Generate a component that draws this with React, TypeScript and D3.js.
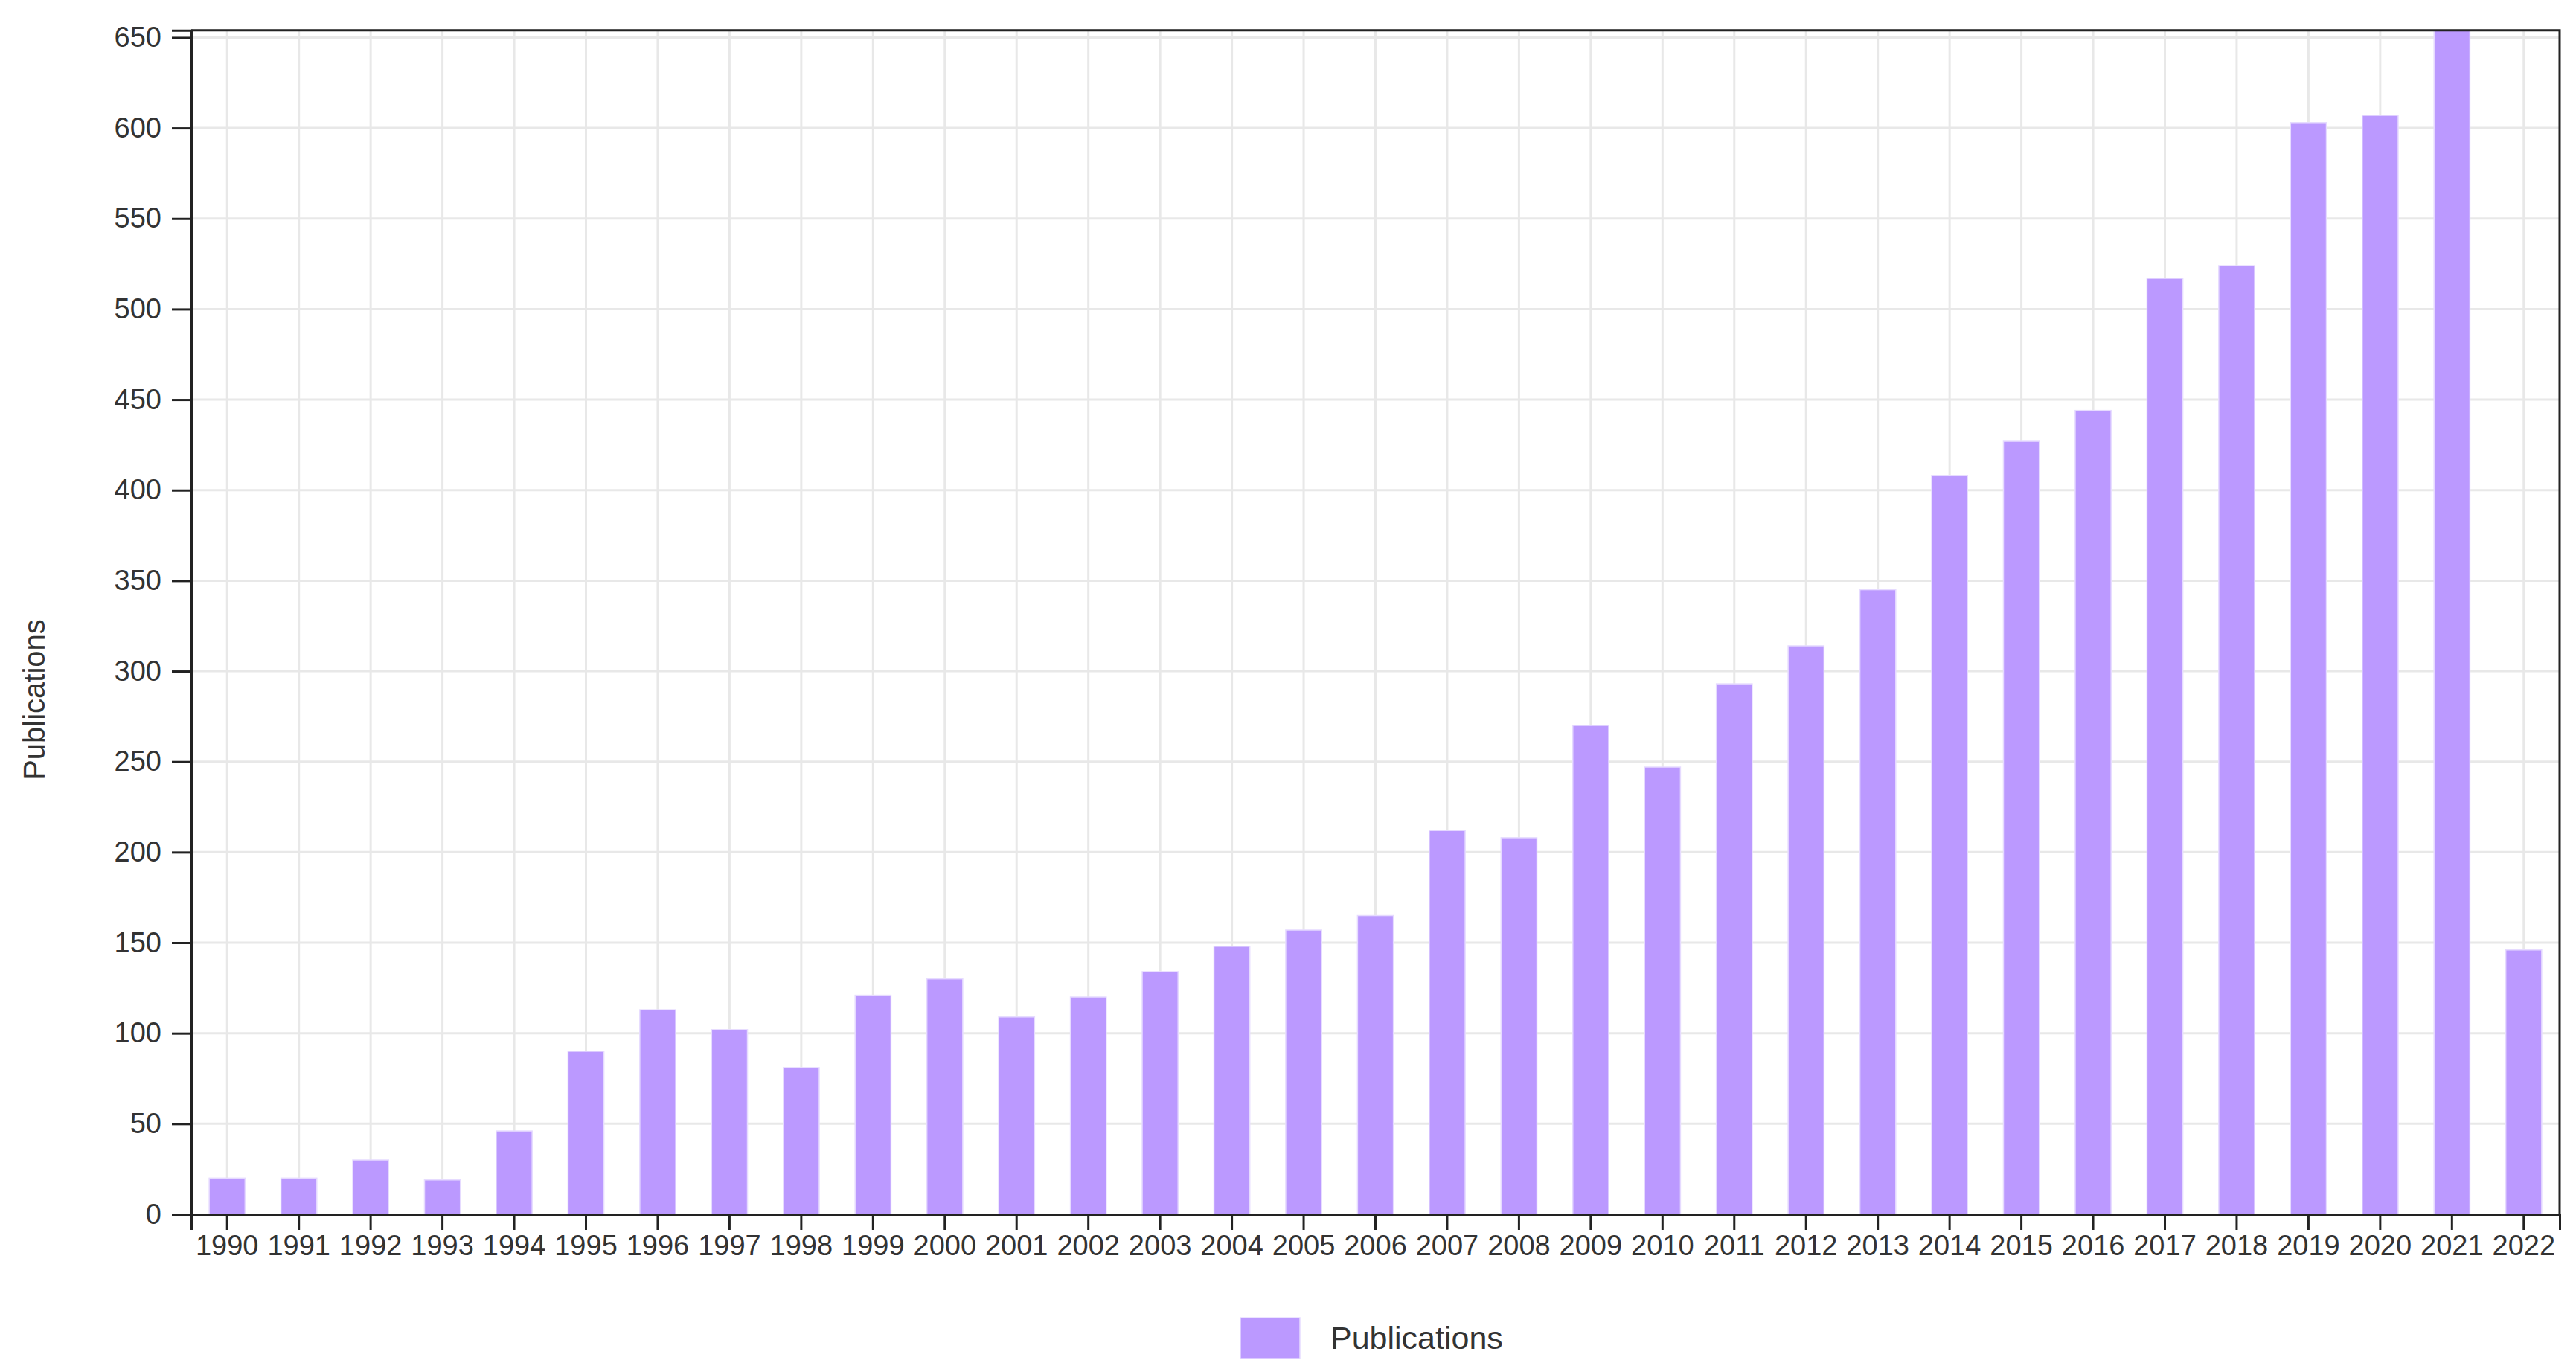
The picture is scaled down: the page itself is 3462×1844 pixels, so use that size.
import React, { useEffect, useRef } from "react";
import * as d3 from "d3";

const years: string[] = [
  "1990", "1991", "1992", "1993", "1994", "1995", "1996", "1997", "1998", "1999",
  "2000", "2001", "2002", "2003", "2004", "2005", "2006", "2007", "2008", "2009",
  "2010", "2011", "2012", "2013", "2014", "2015", "2016", "2017", "2018", "2019",
  "2020", "2021", "2022",
];
const publications: number[] = [
  20, 20, 30, 19, 46, 90, 113, 102, 81, 121,
  130, 109, 120, 134, 148, 157, 165, 212, 208, 270,
  247, 293, 314, 345, 408, 427, 444, 517, 524, 603,
  607, 654, 146,
];
const yTicks: number[] = [0, 50, 100, 150, 200, 250, 300, 350, 400, 450, 500, 550, 600, 650];
const seriesName = "Publications";
const yLabel = "Publications";

const W = 3462;
const H = 1844;
const FONT = "'Liberation Sans', Arial, Helvetica, sans-serif";
const BAR = "#bb99ff";

export default function App() {
  const ref = useRef<SVGSVGElement | null>(null);

  useEffect(() => {
    const svg = d3.select(ref.current);
    svg.selectAll("*").remove();

    const left = 257, right = 3440, top = 40.7, bottom = 1632;

    const x = d3.scaleBand<string>().domain(years).range([left, right]).paddingInner(0.5).paddingOuter(0.25);
    const y = d3.scaleLinear().domain([0, d3.max(publications) as number]).range([bottom, top]);

    // grid
    const grid = svg.append("g");
    grid.selectAll("line.v").data(years).enter().append("line")
      .attr("x1", d => (x(d) as number) + x.bandwidth() / 2)
      .attr("x2", d => (x(d) as number) + x.bandwidth() / 2)
      .attr("y1", top).attr("y2", bottom)
      .attr("stroke", "#e8e8e8").attr("stroke-width", 3);
    grid.selectAll("line.h").data(yTicks.filter(t => t > 0)).enter().append("line")
      .attr("x1", left).attr("x2", right)
      .attr("y1", d => y(d)).attr("y2", d => y(d))
      .attr("stroke", "#e8e8e8").attr("stroke-width", 3);

    // bars
    svg.append("g").selectAll("rect").data(publications).enter().append("rect")
      .attr("x", (_, i) => x(years[i]) as number)
      .attr("width", x.bandwidth())
      .attr("y", d => y(d))
      .attr("height", d => bottom - y(d))
      .attr("fill", BAR)
      .attr("stroke", "#e6dbff")
      .attr("stroke-width", 1.5);

    // frame top/right
    svg.append("path")
      .attr("d", `M${left},${top}H${right}V${bottom}`)
      .attr("fill", "none").attr("stroke", "#222").attr("stroke-width", 3);

    // y axis
    const gy = svg.append("g").attr("transform", `translate(${left},0)`)
      .call(d3.axisLeft(y).tickValues(yTicks).tickSize(26).tickPadding(14));
    gy.selectAll("path, line").attr("stroke", "#222").attr("stroke-width", 3);
    gy.selectAll("text").attr("font-family", FONT).attr("font-size", 38).attr("fill", "#333");

    // x axis
    const gx = svg.append("g").attr("transform", `translate(0,${bottom})`)
      .call(d3.axisBottom(x).tickSize(21).tickPadding(7));
    gx.selectAll("path, line").attr("stroke", "#222").attr("stroke-width", 3);
    gx.selectAll("text").attr("font-family", FONT).attr("font-size", 38).attr("fill", "#333");

    // y label
    svg.append("text")
      .attr("transform", `translate(60,940) rotate(-90)`)
      .attr("text-anchor", "middle")
      .attr("font-family", FONT).attr("font-size", 40).attr("fill", "#333")
      .text(yLabel);

    // legend
    svg.append("rect")
      .attr("x", 1667).attr("y", 1771).attr("width", 80).attr("height", 55)
      .attr("fill", BAR).attr("stroke", "#e6dbff").attr("stroke-width", 1.5);
    svg.append("text")
      .attr("x", 1788).attr("y", 1813)
      .attr("font-family", FONT).attr("font-size", 43).attr("fill", "#333")
      .text(seriesName);
  }, []);

  return (
    <svg
      ref={ref}
      width={W}
      height={H}
      style={{ position: "absolute", left: 0, top: 0, background: "#fff" }}
    />
  );
}
